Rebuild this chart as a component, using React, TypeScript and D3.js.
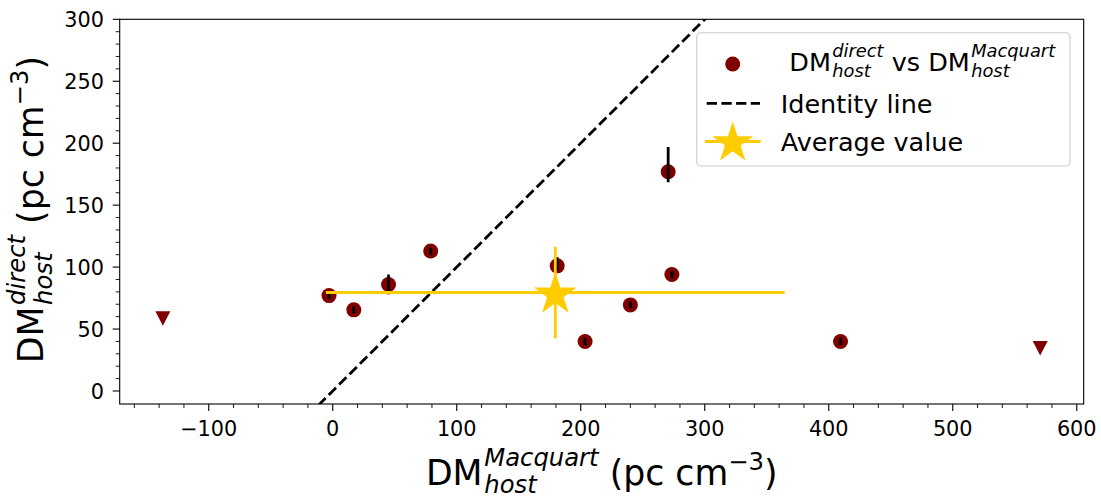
import React, { useEffect, useRef } from "react";
import * as d3 from "d3";

// ---- data ----
const circX = [-3, 17, 45, 79, 181, 203.5, 240, 273.5, 270.5, 409.5];
const circY = [77, 65.5, 86, 113, 101, 40, 69.5, 94, 177, 40];
const errUp = [3, 3, 8, 3, 7, 3, 3, 3, 20, 3];
const errDown = [3, 3, 8, 3, 4, 3, 3, 3, 8.5, 3];
const limX = [-137, 570.5];
const limY = [58.5, 34.5];
const avgX = [179.5];
const avgY = [79.5];
const avgXErr = [185];
const avgYErr = [37];
const xTicks = [-100, 0, 100, 200, 300, 400, 500, 600];
const yTicks = [0, 50, 100, 150, 200, 250, 300];
const legendLabels = ["Identity line", "Average value"];

const W = 1101;
const H = 496;
const MAROON = "#800000";
const GOLD = "#FFCC00";
const FONT = "DejaVu Sans";

type Part =
  | { kind: "text"; t: string }
  | { kind: "script"; sup?: string; sub?: string; supIt?: boolean; subIt?: boolean; gap?: number };

function drawMath(
  parent: d3.Selection<any, any, any, any>,
  parts: Part[],
  fontSize: number,
  anchor: "start" | "middle",
  subShift = 0.24
) {
  const inner = parent.append("g");
  let cx = 0;
  const sfs = fontSize * 0.7;
  for (const p of parts) {
    if (p.kind === "text") {
      const t = inner
        .append("text")
        .attr("x", cx)
        .attr("y", 0)
        .attr("font-size", fontSize)
        .attr("fill", "#000")
        .style("white-space", "pre")
        .text(p.t);
      cx += (t.node() as SVGTextElement).getComputedTextLength();
    } else {
      cx += (p.gap ?? 0.05) * fontSize;
      let w = 0;
      if (p.sup) {
        const t = inner
          .append("text")
          .attr("x", cx)
          .attr("y", -fontSize * (p.sub ? 0.535 : 0.44))
          .attr("font-size", sfs)
          .attr("font-style", p.supIt ? "italic" : "normal")
          .attr("fill", "#000")
          .style("white-space", "pre")
          .text(p.sup);
        w = Math.max(w, (t.node() as SVGTextElement).getComputedTextLength());
      }
      if (p.sub) {
        const t = inner
          .append("text")
          .attr("x", cx)
          .attr("y", fontSize * subShift)
          .attr("font-size", sfs)
          .attr("font-style", p.subIt ? "italic" : "normal")
          .attr("fill", "#000")
          .style("white-space", "pre")
          .text(p.sub);
        w = Math.max(w, (t.node() as SVGTextElement).getComputedTextLength());
      }
      cx += w;
    }
  }
  if (anchor === "middle") inner.attr("transform", `translate(${-cx / 2},0)`);
  return cx;
}

export default function App() {
  const ref = useRef<SVGSVGElement | null>(null);

  useEffect(() => {
    const svg = d3.select(ref.current);
    svg.selectAll("*").remove();

    const left = 119.7, right = 1083.7, top = 19.3, bottom = 404;
    const x = d3.scaleLinear().domain([-171.8, 605.6]).range([left, right]);
    const y = d3.scaleLinear().domain([-10.5, 300]).range([bottom, top]);

    svg.append("rect").attr("width", W).attr("height", H).attr("fill", "#fff");

    const defs = svg.append("defs");
    defs.append("clipPath").attr("id", "plotclip")
      .append("rect").attr("x", left).attr("y", top).attr("width", right - left).attr("height", bottom - top);

    const plot = svg.append("g").attr("clip-path", "url(#plotclip)");

    // identity line
    const idx = [-20, 320];
    plot.append("line")
      .attr("x1", x(idx[0])).attr("y1", y(idx[0]))
      .attr("x2", x(idx[1])).attr("y2", y(idx[1]))
      .attr("stroke", "#000").attr("stroke-width", 2.8)
      .attr("stroke-dasharray", "10.3,4.4");

    // circles
    circX.forEach((cxv, i) => {
      plot.append("circle")
        .attr("cx", x(cxv)).attr("cy", y(circY[i])).attr("r", 7.5)
        .attr("fill", MAROON);
    });
    // error bars on top
    circX.forEach((cxv, i) => {
      plot.append("line")
        .attr("x1", x(cxv)).attr("x2", x(cxv))
        .attr("y1", y(circY[i] + errUp[i])).attr("y2", y(circY[i] - errDown[i]))
        .attr("stroke", "#000").attr("stroke-width", 2.8);
    });

    // triangles (upper limits)
    limX.forEach((lx, i) => {
      const px = x(lx), py = y(limY[i]);
      const hw = 7.5, hh = 7.2;
      plot.append("path")
        .attr("d", `M${px - hw},${py - hh}L${px + hw},${py - hh}L${px},${py + hh}Z`)
        .attr("fill", MAROON);
    });

    const starPath = (cx0: number, cy0: number, R: number) => {
      const r = R * 0.381966;
      const pts: string[] = [];
      for (let k = 0; k < 10; k++) {
        const a = -Math.PI / 2 + (k * Math.PI) / 5;
        const rr = k % 2 === 0 ? R : r;
        pts.push(`${cx0 + rr * Math.cos(a)},${cy0 + rr * Math.sin(a)}`);
      }
      return "M" + pts.join("L") + "Z";
    };

    // average value
    avgX.forEach((ax, i) => {
      const px = x(ax), py = y(avgY[i]);
      plot.append("line")
        .attr("x1", x(ax - avgXErr[i])).attr("x2", x(ax + avgXErr[i]))
        .attr("y1", py).attr("y2", py)
        .attr("stroke", GOLD).attr("stroke-width", 2.8);
      plot.append("line")
        .attr("x1", px).attr("x2", px)
        .attr("y1", y(avgY[i] + avgYErr[i])).attr("y2", y(avgY[i] - avgYErr[i]))
        .attr("stroke", GOLD).attr("stroke-width", 2.8);
      plot.append("path").attr("d", starPath(px, py + 2, 22.5)).attr("fill", GOLD);
    });

    // frame
    svg.append("rect")
      .attr("x", left).attr("y", top).attr("width", right - left).attr("height", bottom - top)
      .attr("fill", "none").attr("stroke", "#000").attr("stroke-width", 1.1);

    // ticks
    const tickG = svg.append("g");
    const xMinor = d3.range(-160, 601, 20).filter((v) => v % 100 !== 0);
    const yMinor = d3.range(-10, 301, 10).filter((v) => v % 50 !== 0);
    xTicks.forEach((v) => {
      tickG.append("line").attr("x1", x(v)).attr("x2", x(v)).attr("y1", bottom).attr("y2", bottom + 7)
        .attr("stroke", "#000").attr("stroke-width", 1.1);
      tickG.append("text").attr("x", x(v)).attr("y", 436).attr("text-anchor", "middle")
        .attr("font-size", 20.8).attr("fill", "#000")
        .text(v < 0 ? "\u2212" + Math.abs(v) : String(v));
    });
    xMinor.forEach((v) => {
      tickG.append("line").attr("x1", x(v)).attr("x2", x(v)).attr("y1", bottom).attr("y2", bottom + 4)
        .attr("stroke", "#000").attr("stroke-width", 0.9);
    });
    yTicks.forEach((v) => {
      tickG.append("line").attr("x1", left - 7).attr("x2", left).attr("y1", y(v)).attr("y2", y(v))
        .attr("stroke", "#000").attr("stroke-width", 1.1);
      tickG.append("text").attr("x", 104).attr("y", y(v) + 7.6).attr("text-anchor", "end")
        .attr("font-size", 20.8).attr("fill", "#000").text(String(v));
    });
    yMinor.forEach((v) => {
      if (y(v) > bottom - 1) return;
      tickG.append("line").attr("x1", left - 4).attr("x2", left).attr("y1", y(v)).attr("y2", y(v))
        .attr("stroke", "#000").attr("stroke-width", 0.9);
    });

    // axis labels
    const xl = svg.append("g").attr("transform", `translate(${(left + right) / 2},485)`);
    drawMath(xl, [
      { kind: "text", t: "DM" },
      { kind: "script", sup: "Macquart", sub: "host", supIt: true, subIt: true },
      { kind: "text", t: " (pc cm" },
      { kind: "script", sup: "\u22123", gap: 0 },
      { kind: "text", t: ")" },
    ], 34.7, "middle", 0.22);

    const yl = svg.append("g").attr("transform", `translate(43.3,${(top + bottom) / 2 - 2}) rotate(-90)`);
    drawMath(yl, [
      { kind: "text", t: "DM" },
      { kind: "script", sup: "direct", sub: "host", supIt: true, subIt: true },
      { kind: "text", t: " (pc cm" },
      { kind: "script", sup: "\u22123", gap: 0 },
      { kind: "text", t: ")" },
    ], 34.7, "middle");

    // legend
    const lg = svg.append("g");
    lg.append("rect").attr("x", 696.7).attr("y", 32.7).attr("width", 1070 - 696.7).attr("height", 166 - 32.7)
      .attr("rx", 4).attr("fill", "#fff").attr("fill-opacity", 0.8)
      .attr("stroke", "#cccccc").attr("stroke-width", 1.1);
    lg.append("circle").attr("cx", 732.7).attr("cy", 64).attr("r", 7.5).attr("fill", MAROON);
    const l1 = lg.append("g").attr("transform", "translate(789.3,71)");
    drawMath(l1, [
      { kind: "text", t: "DM" },
      { kind: "script", sup: "direct", sub: "host", supIt: true, subIt: true },
      { kind: "text", t: " vs DM" },
      { kind: "script", sup: "Macquart", sub: "host", supIt: true, subIt: true },
    ], 25.5, "start");

    lg.append("line").attr("x1", 706.7).attr("x2", 760).attr("y1", 103.3).attr("y2", 103.3)
      .attr("stroke", "#000").attr("stroke-width", 2.8).attr("stroke-dasharray", "10.3,4.4");
    lg.append("text").attr("x", 780.7).attr("y", 113.3).attr("font-size", 25.5).attr("fill", "#000")
      .text(legendLabels[0]);

    lg.append("line").attr("x1", 705).attr("x2", 760.7).attr("y1", 141.5).attr("y2", 141.5)
      .attr("stroke", GOLD).attr("stroke-width", 2.8);
    lg.append("path").attr("d", starPath(732.7, 143, 21.5)).attr("fill", GOLD);
    lg.append("text").attr("x", 780.7).attr("y", 150.5).attr("font-size", 25.5).attr("fill", "#000")
      .text(legendLabels[1]);
  }, []);

  return (
    <svg
      ref={ref}
      width={W}
      height={H}
      style={{ display: "block", position: "absolute", left: 0, top: 0, fontFamily: FONT }}
    />
  );
}
